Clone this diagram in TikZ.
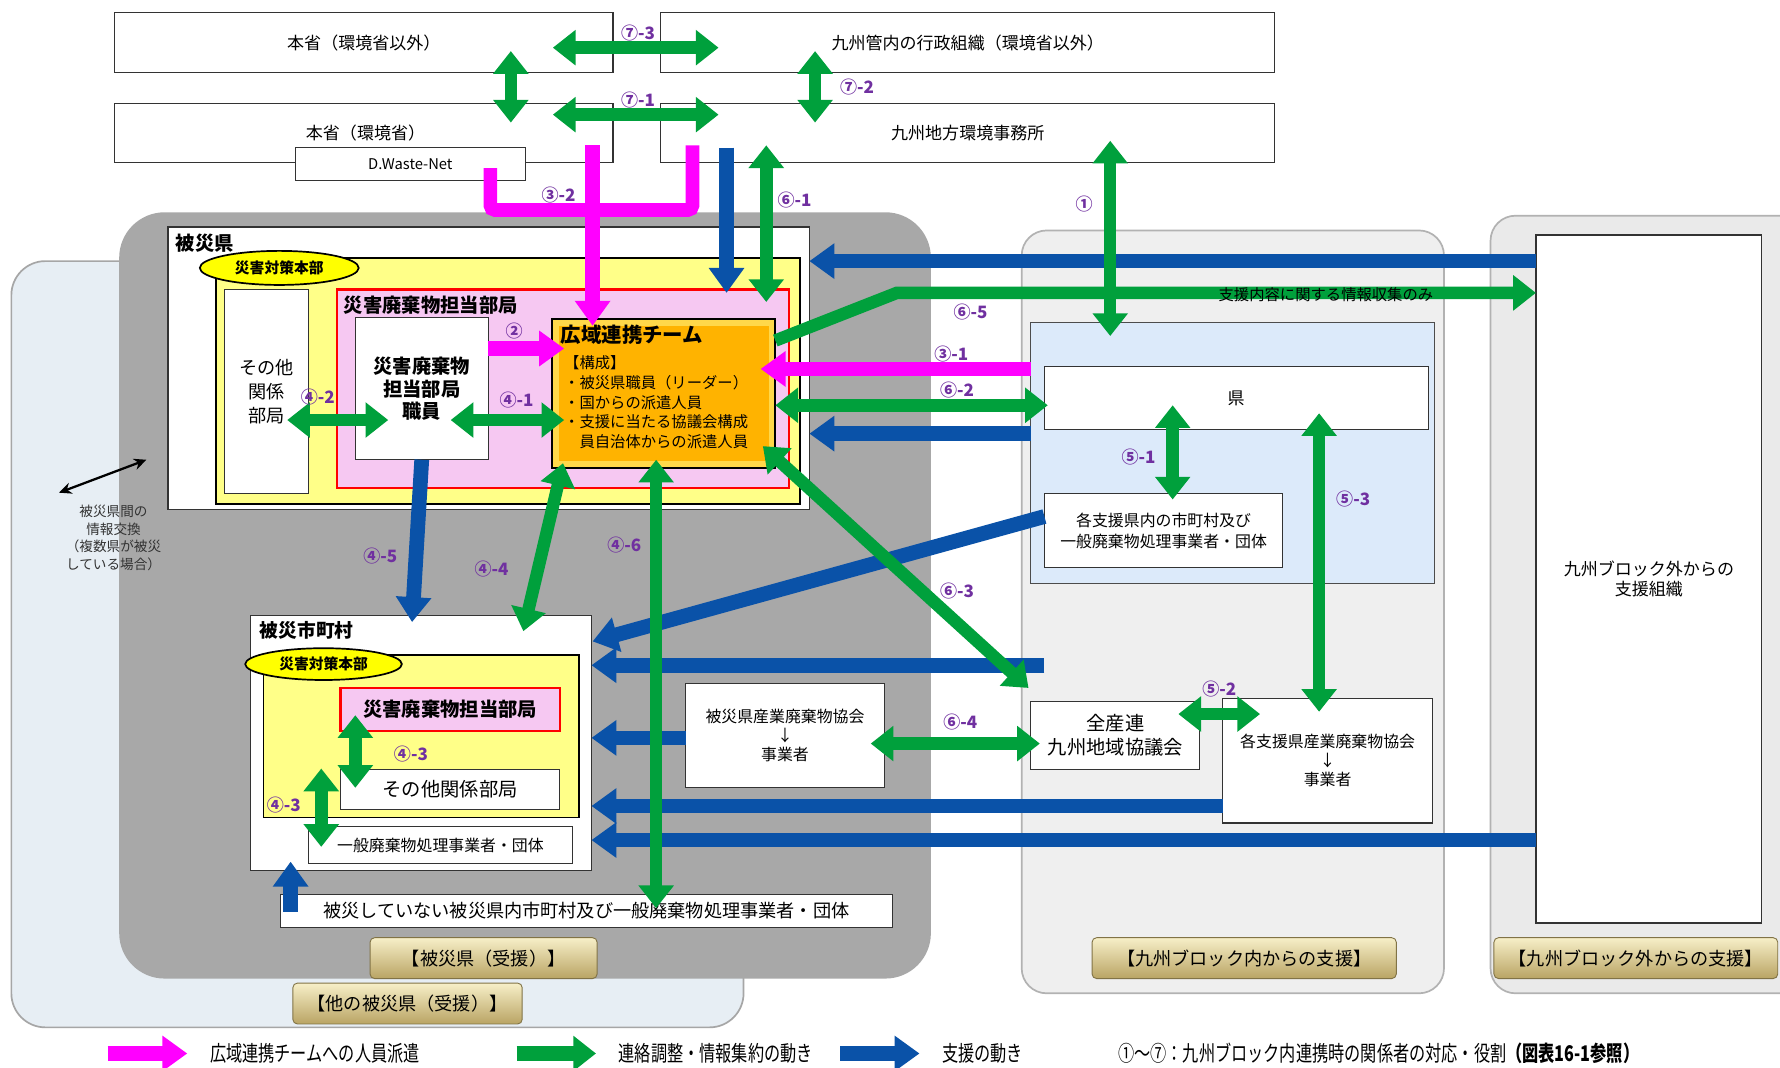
\documentclass[tikz,border=0pt]{standalone}
\usepackage{fontspec}
\setmainfont{Noto Sans CJK JP}
\newfontfamily\cond{Noto Sans CJK JP}[FakeStretch=0.75]
\usetikzlibrary{arrows.meta,fit,shapes.geometric}
\definecolor{mag}{HTML}{FF00FF}
\definecolor{grn}{HTML}{00A03C}
\definecolor{blu}{HTML}{0A52A8}
\definecolor{pur}{HTML}{7030A0}
\definecolor{dgray}{HTML}{A8A8A8}
\definecolor{lblue}{HTML}{DCEAFA}
\definecolor{leftbg}{HTML}{E7EEF4}
\definecolor{midbg}{HTML}{EFEFEF}
\definecolor{rbg}{HTML}{EAEAEA}
\definecolor{ylw}{HTML}{FFFF88}
\definecolor{ylw2}{HTML}{FFFF00}
\definecolor{pnk}{HTML}{F6C8F2}
\definecolor{org}{HTML}{FFB300}
\definecolor{orgl}{HTML}{FFD84A}
\definecolor{goldt}{HTML}{F7EFC8}
\definecolor{goldb}{HTML}{B9A464}
% empty rectangle node from corner (x1,y1) to (x2,y2)
\newcommand\rect[6]{\node[#6, fit={(#2,#3) (#4,#5)}] (#1) {};}
% rectangle node with a centred text node
\newcommand\rbox[8]{\node[#6, fit={(#2,#3) (#4,#5)}] (#1) {};\node[#7] (#1-t) at (#1.center) {#8};}
\tikzset{
 every node/.style={inner sep=0pt, outer sep=0pt, align=center, font=\fontsize{14}{17}\selectfont},
 bx/.style={draw=black!80, line width=1pt, fill=white},
 garr/.style={draw=grn, line width=11pt, {Triangle[width=30pt,length=20pt]}-{Triangle[width=30pt,length=20pt]}},
 gone/.style={draw=grn, line width=11pt, -{Triangle[width=30pt,length=20pt]}},
 barr/.style={draw=blu, line width=13pt, -{Triangle[width=30pt,length=22pt]}},
 marr/.style={draw=mag, line width=13pt, -{Triangle[width=30pt,length=22pt]}},
 lbl/.style={text=pur, font=\fontsize{15}{17}\selectfont\bfseries},
 gold/.style={rounded corners=4pt, top color=goldt, bottom color=goldb, draw=goldb!70!black, line width=0.8pt},
 goldtx/.style={font=\fontsize{16}{18}\selectfont},
 ell/.style={ellipse, draw=black, line width=1.5pt, fill=ylw2, font=\fontsize{13}{15}\selectfont\bfseries},
}
\begin{document}
\begin{tikzpicture}[x=1pt,y=-1pt]
\useasboundingbox[fill=white] (0,0) rectangle (1568,940);

% ---------- background regions
\rect{otherreg}{10}{230}{655}{905}{fill=leftbg, draw=black!35, line width=1.5pt, rounded corners=30pt}
\rect{hisaireg}{105}{187}{820}{862}{fill=dgray, rounded corners=40pt}
\rect{inreg}{900}{203}{1272}{875}{fill=midbg, draw=black!30, line width=1.5pt, rounded corners=22pt}
\rect{outreg}{1313}{190}{1590}{875}{fill=rbg, draw=black!30, line width=1.5pt, rounded corners=22pt}

% ---------- top boxes
\rbox{hqo}{101}{11}{540}{64}{bx}{font=\fontsize{15}{18}\selectfont}{本省（環境省以外）}
\rbox{kyuadm}{582}{11}{1123}{64}{bx}{font=\fontsize{15}{18}\selectfont}{九州管内の行政組織（環境省以外）}
\rect{hq}{101}{91}{540}{143}{bx}
\node[font=\fontsize{15}{18}\selectfont] (hqt) at (322,117) {本省（環境省）};
\rbox{kyuoff}{582}{91}{1123}{143}{bx}{font=\fontsize{15}{18}\selectfont}{九州地方環境事務所}
\rbox{dwn}{260}{130}{463}{159}{bx}{font=\fontsize{13}{15}\selectfont}{D.Waste-Net}

% ---------- 被災県
\rect{hken}{148}{200}{713}{449}{bx}
\node[anchor=west, font=\fontsize{17}{19}\selectfont\bfseries] (hkenlbl) at (155,214) {被災県};
\rect{hkhq}{190}{227}{705}{444}{fill=ylw, draw=black, line width=1.5pt}
\node[ell, minimum width=140pt, minimum height=30pt] (ell1) at (246,236) {災害対策本部};
\rbox{oth}{198}{255}{272}{435}{bx}{font=\fontsize{16}{21}\selectfont}{その他\\関係\\部局}
\rect{pinkk}{297}{255}{695}{430}{fill=pnk, draw=red, line width=2pt}
\node[anchor=west, font=\fontsize{17}{19}\selectfont\bfseries] (pinklbl) at (303,269) {災害廃棄物担当部局};
\rbox{staff}{313}{280}{430}{405}{bx}{font=\fontsize{17}{20}\selectfont\bfseries}{災害廃棄物\\担当部局\\職員}
\rect{team}{486}{281}{683}{412}{fill=orgl, draw=black, line width=2pt}
\fill[org] (492,287) rectangle (677,406);
\node[anchor=north west, font=\fontsize{18}{20}\selectfont\bfseries] (teamt) at (494,286) {広域連携チーム};
\node[anchor=north west, align=left, font=\fontsize{13.5}{17.5}\selectfont] (teamb) at (497,313) {【構成】\\・被災県職員（リーダー）\\・国からの派遣人員\\・支援に当たる協議会構成\\\hspace*{1em}員自治体からの派遣人員};

% ---------- 被災市町村
\rect{hcity}{221}{542}{521}{767}{bx}
\node[anchor=west, font=\fontsize{16.5}{19}\selectfont\bfseries] (hcitylbl) at (229,555) {被災市町村};
\rect{chq}{232}{577}{510}{720}{fill=ylw, draw=black, line width=1.5pt}
\node[ell, minimum width=138pt, minimum height=28pt] (ell2) at (285,585) {災害対策本部};
\rbox{cpink}{300}{606}{493}{644}{fill=pnk, draw=red, line width=2pt}{font=\fontsize{17}{19}\selectfont\bfseries}{災害廃棄物担当部局}
\rbox{coth}{300}{678}{493}{713}{bx}{font=\fontsize{17}{19}\selectfont}{その他関係部局}
\rbox{cgen}{272}{728}{504}{761}{bx}{font=\fontsize{14}{16}\selectfont}{一般廃棄物処理事業者・団体}
\rbox{nonhit}{247}{788}{786}{817}{bx}{font=\fontsize{16}{18}\selectfont}{被災していない被災県内市町村及び一般廃棄物処理事業者・団体}
\rbox{hsanpai}{604}{602}{779}{694}{bx}{font=\fontsize{14}{17}\selectfont}{被災県産業廃棄物協会\\↓\\事業者}

% ---------- 九州ブロック内
\rect{lbbox}{908}{284}{1264}{514}{fill=lblue, draw=black!70, line width=1pt}
\rbox{ken}{920}{323}{1258}{378}{bx}{font=\fontsize{15}{18}\selectfont}{県}
\rbox{kencity}{920}{435}{1130}{500}{bx}{font=\fontsize{14}{19}\selectfont}{各支援県内の市町村及び\\一般廃棄物処理事業者・団体}
\rbox{zensan}{908}{618}{1057}{678}{bx}{font=\fontsize{17}{21}\selectfont}{全産連\\九州地域協議会}
\rbox{kensanpai}{1077}{615}{1262}{725}{bx}{font=\fontsize{14}{17}\selectfont}{各支援県産業廃棄物協会\\↓\\事業者}

% ---------- 九州ブロック外
\rbox{outbox}{1353}{207}{1552}{813}{bx}{font=\fontsize{15}{18}\selectfont}{九州ブロック外からの\\支援組織}

% ---------- gold labels
\rbox{g1}{326}{826}{526}{862}{gold}{goldtx}{【被災県（受援）】}
\rbox{g2}{258}{866}{460}{902}{gold}{goldtx}{【他の被災県（受援）】}
\rbox{g3}{962}{826}{1230}{862}{gold}{goldtx}{【九州ブロック内からの支援】}
\rbox{g4}{1316}{826}{1566}{862}{gold}{goldtx}{【九州ブロック外からの支援】}

% ---------- blue arrows (support)
\draw[barr] (640,130) -- (640,258);
\draw[barr] (outbox.west |- 0,230) -- (hken.east |- 0,230);
\draw[barr] (lbbox.west |- 0,382) -- (hken.east |- 0,382);
\draw[barr] (staff.south) -- (363,548);
\draw[barr] (kencity.west |- 0,455) -- (522,565);
\draw[barr] (920,586) -- (hcity.east |- 0,586);
\draw[barr] (hsanpai.west |- 0,650) -- (hcity.east |- 0,650);
\draw[barr] (kensanpai.west |- 0,710) -- (hcity.east |- 0,710);
\draw[barr] (outbox.west |- 0,740) -- (hcity.east |- 0,740);
\draw[barr] (256,803) -- (256,759);

% ---------- magenta arrows (dispatch)
\draw[mag, line width=12pt, rounded corners=4pt] (432,148) -- (432,185) -- (610,185) -- (610,128);
\draw[marr] (522,128) -- (522,287);
\draw[marr] (staff.east |- 0,307) -- (497,307);
\draw[marr] (lbbox.west |- 0,325) -- (670,325);

% ---------- green arrows (coordination)
\draw[garr] (487,42) -- (633,42);
\draw[garr] (487,101) -- (633,101);
\draw[garr] (450,45) -- (450,108);
\draw[garr] (718,45) -- (718,108);
\draw[garr] (675,128) -- (675,266);
\draw[gone] (683,300) -- (790,258) -- (outbox.west |- 0,258);
\draw[garr] (978,124) -- (978,296);
\draw[garr] (683,357) -- (923,357);
\draw[garr] (253,370) -- (342,370);
\draw[garr] (397,370) -- (497,370);
\draw[garr] (496,408) -- (461,556);
\draw[garr] (578,405) -- (578,800);
\draw[garr] (672,393) -- (906,606);
\draw[garr] (313,630) -- (313,694);
\draw[garr] (283,677) -- (283,746);
\draw[garr] (767,655) -- (916,655);
\draw[garr] (1038,629) -- (1110,629);
\draw[garr] (1033,357) -- (1033,440);
\draw[garr] (1162,364) -- (1162,627);

% ---------- black arrow (inter-prefecture)
\draw[line width=2pt, {Stealth[length=11pt,width=10pt]}-{Stealth[length=11pt,width=10pt]}] (52,434) -- (129,405);
\node[font=\fontsize{12}{15.5}\selectfont, text=black!80] (interlbl) at (100,474) {被災県間の\\情報交換\\（複数県が被災\\している場合）};

% ---------- text over arrow
\node[font=\fontsize{13.5}{15}\selectfont] (infoonly) at (1168,260) {支援内容に関する情報収集のみ};

% ---------- numbered labels
\node[lbl] (l73) at (562,29) {⑦-3};
\node[lbl] (l71) at (562,88) {⑦-1};
\node[lbl] (l72) at (755,77) {⑦-2};
\node[lbl] (l32) at (492,172) {③-2};
\node[lbl] (l61) at (700,176) {⑥-1};
\node[lbl] (l1) at (955,180) {①};
\node[lbl] (l65) at (855,275) {⑥-5};
\node[lbl] (l31) at (838,312) {③-1};
\node[lbl] (l62) at (843,344) {⑥-2};
\node[lbl] (l51) at (1003,403) {⑤-1};
\node[lbl] (l53) at (1192,440) {⑤-3};
\node[lbl] (l63) at (843,521) {⑥-3};
\node[lbl] (l52) at (1074,607) {⑤-2};
\node[lbl] (l64) at (846,636) {⑥-4};
\node[lbl] (l41) at (455,352) {④-1};
\node[lbl] (l42) at (280,350) {④-2};
\node[lbl] (l2) at (453,292) {②};
\node[lbl] (l45) at (335,490) {④-5};
\node[lbl] (l44) at (433,501) {④-4};
\node[lbl] (l46) at (550,480) {④-6};
\node[lbl] (l43a) at (362,664) {④-3};
\node[lbl] (l43b) at (250,709) {④-3};

% ---------- legend
\coordinate (lm1) at (95,928); \coordinate (lm2) at (165,928);
\coordinate (lg1) at (455,928); \coordinate (lg2) at (525,928);
\coordinate (lb1) at (740,928); \coordinate (lb2) at (810,928);
\draw[marr, line width=14pt] (lm1) -- (lm2);
\draw[gone, line width=14pt] (lg1) -- (lg2);
\draw[barr, line width=14pt] (lb1) -- (lb2);
\node[anchor=west, font=\cond\fontsize{19}{21}\selectfont] (leg1) at (185,928) {広域連携チームへの人員派遣};
\node[anchor=west, font=\cond\fontsize{19}{21}\selectfont] (leg2) at (545,928) {連絡調整・情報集約の動き};
\node[anchor=west, font=\cond\fontsize{19}{21}\selectfont] (leg3) at (830,928) {支援の動き};
\node[anchor=west, font=\cond\fontsize{19}{21}\selectfont] (leg4) at (985,928) {①～⑦：九州ブロック内連携時の関係者の対応・役割{\bfseries（図表16-1参照）}};
\end{tikzpicture}
\end{document}
